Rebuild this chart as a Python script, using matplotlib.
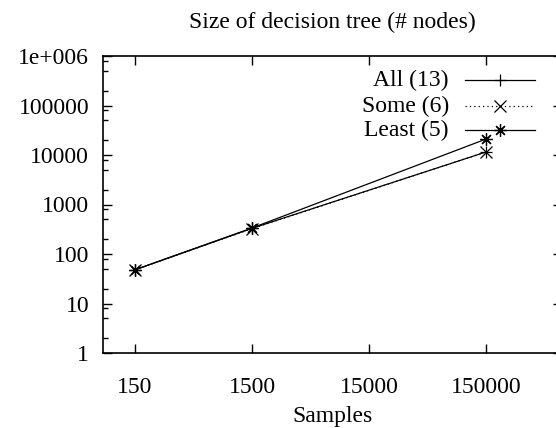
import matplotlib
matplotlib.use("Agg")
import matplotlib.pyplot as plt
from matplotlib.lines import Line2D
from matplotlib.ticker import FixedLocator, FixedFormatter, LogLocator, NullFormatter

# ---------------------------------------------------------------------------
# Data
# ---------------------------------------------------------------------------
samples = [150, 1500, 150000]
all_nodes = [48, 330, 11500]
some_nodes = [48, 325, 11500]
least_nodes = [48, 335, 21000]

series_labels = ["All (13)", "Some (6)", "Least (5)"]

x_ticks = [150, 1500, 15000, 150000]
x_ticklabels = ["150", "1500", "15000", "150000"]
y_ticks = [1, 10, 100, 1000, 10000, 100000, 1000000]
y_ticklabels = ["1", "10", "100", "1000", "10000", "100000", "1e+006"]

# ---------------------------------------------------------------------------
# Style
# ---------------------------------------------------------------------------
FS = 17
plt.rcParams.update({
    "font.family": "Liberation Serif",
    "font.size": FS,
})

W, H = 556, 428
fig = plt.figure(figsize=(W / 100, H / 100), dpi=100)
# plot border: left 103px, right ~562px (off canvas), top 56px, bottom 353px
ax = fig.add_axes([103 / W, 1 - 353 / H, (562 - 103) / W, (353 - 56) / H])

ax.set_xscale("log")
ax.set_yscale("log")
ax.set_xlim(79.9, 669000)
ax.set_ylim(1, 1000000)

star = (8, 2, 0)
styles = [
    dict(ls="-", marker="+"),
    dict(ls=(0, (1, 2.5)), marker="x"),
    dict(ls="-", marker=star),
]
data = [all_nodes, some_nodes, least_nodes]

for vals, st in zip(data, styles):
    ax.plot(samples, vals, color="black", lw=0.9, markersize=9,
            markeredgewidth=0.9, **st)

# Ticks
ax.xaxis.set_major_locator(FixedLocator(x_ticks))
ax.xaxis.set_major_formatter(FixedFormatter(x_ticklabels))
ax.xaxis.set_minor_locator(FixedLocator([]))
ax.yaxis.set_major_locator(FixedLocator(y_ticks))
ax.yaxis.set_major_formatter(FixedFormatter(y_ticklabels))
ax.yaxis.set_minor_locator(LogLocator(base=10, subs=(2, 5, 8)))
ax.yaxis.set_minor_formatter(NullFormatter())
ax.tick_params(which="both", direction="in", top=True, right=True,
               width=1.0, color="black", labelsize=FS)
ax.tick_params(which="major", length=6.5)
ax.tick_params(which="minor", length=3.5)
ax.tick_params(axis="x", pad=17)
ax.tick_params(axis="y", pad=10)

for sp in ax.spines.values():
    sp.set_linewidth(1.2)

ax.set_title("Size of decision tree (# nodes)", fontsize=FS, pad=20)
ax.set_xlabel("Samples", fontsize=FS, labelpad=6)

# Gnuplot-style key: right-aligned text, sample line after it
key_y = [0.919, 0.8316, 0.7508]
for yk, lab, st in zip(key_y, series_labels, styles):
    ax.text(0.7538, yk, lab, transform=ax.transAxes, ha="right",
            va="center", fontsize=FS)
    ax.add_line(Line2D([0.7887, 0.9412], [yk, yk], transform=ax.transAxes,
                       color="black", lw=0.9, ls=st["ls"]))
    ax.add_line(Line2D([0.8649], [yk], transform=ax.transAxes,
                       color="black", ls="none", marker=st["marker"],
                       markersize=9, markeredgewidth=0.9))

fig.savefig("out.png", dpi=100)
